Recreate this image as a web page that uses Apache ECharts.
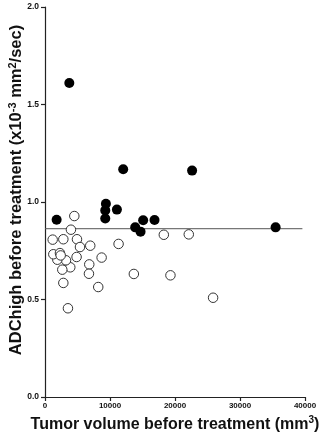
<!DOCTYPE html>
<html>
<head>
<meta charset="utf-8">
<script src="https://cdn.jsdelivr.net/npm/echarts@6/dist/echarts.min.js"></script>
<style>
	html, body {margin: 0; padding: 0; background: #fff;}
	#chart {width: 325px; height: 440px;}
</style>
</head>
<body>
<div id="chart"></div>
<script>
	// tumor volume (mm3) vs ADChigh before treatment (x10^-3 mm2/sec)
	var filledVolume = [1790, 3740, 9370, 9270, 9270, 11060, 12030, 13880, 14700, 15100, 16850, 22630, 35480];
	var filledAdc    = [0.909, 1.610, 0.991, 0.957, 0.915, 0.961, 1.168, 0.870, 0.848, 0.906, 0.908, 1.161, 0.870];

	var openVolume = [1180, 2820, 3990, 4510, 4920, 5380, 6960, 4860, 3890, 2660, 3230, 1900, 1280, 2300, 2410,
	                  2820, 3530, 6810, 6760, 8190, 8710, 11320, 13670, 18280, 19300, 22120, 25860];
	var openAdc    = [0.807, 0.809, 0.858, 0.928, 0.809, 0.769, 0.776, 0.718, 0.665, 0.653, 0.701, 0.704, 0.732, 0.738, 0.726,
	                  0.585, 0.455, 0.680, 0.632, 0.564, 0.715, 0.785, 0.631, 0.832, 0.624, 0.834, 0.509];

	var cutoffX = [0, 39600];
	var cutoffY = 0.863;

	var xTicks = [0, 10000, 20000, 30000, 40000];
	var yTicks = [0.0, 0.5, 1.0, 1.5, 2.0];

	function pairs(xs, ys){
		var out = [];
		for (var i=0; i<xs.length; i++){
			out.push([xs[i], ys[i]]);
		}
		return out;
	}

	var font = 'Liberation Sans, Arial, sans-serif';
	var ink = '#111';

	var chart = echarts.init(document.getElementById('chart'));
	var option = {
		animation: false,
		grid: {left: 45, right: 20, top: 7, bottom: 43, containLabel: false, outerBoundsMode: 'none'},
		xAxis: {
			type: 'value',
			min: xTicks[0],
			max: xTicks[xTicks.length-1],
			interval: 10000,
			splitLine: {show: false},
			axisLine: {show: true, lineStyle: {color: '#222', width: 1.2}},
			axisTick: {show: true, length: 4, lineStyle: {color: '#222', width: 1.2}},
			axisLabel: {
				margin: 5, color: ink, fontFamily: font, fontWeight: 'bold', fontSize: 8,
				formatter: function(v){return String(v);}
			},
			name: '{t|Tumor volume before treatment (mm}{s|3}{t|)}',
			nameLocation: 'middle',
			nameGap: 18,
			nameMoveOverlap: false,
			nameTextStyle: {
				verticalAlign: 'top',
				rich: {
					t: {fontFamily: font, fontWeight: 'bold', fontSize: 16, color: ink, verticalAlign: 'bottom', lineHeight: 18},
					s: {fontFamily: font, fontWeight: 'bold', fontSize: 10, color: ink, verticalAlign: 'top', lineHeight: 18, padding: [0, 0, 6, 0]}
				}
			}
		},
		yAxis: {
			type: 'value',
			min: yTicks[0],
			max: yTicks[yTicks.length-1],
			interval: 0.5,
			splitLine: {show: false},
			axisLine: {show: true, lineStyle: {color: '#222', width: 1.2}},
			axisTick: {show: true, length: 4, lineStyle: {color: '#222', width: 1.2}},
			axisLabel: {
				margin: 6, color: ink, fontFamily: font, fontWeight: 'bold', fontSize: 8.5,
				formatter: function(v){return v.toFixed(1);}
			},
			name: '{t|ADChigh before treatment (x10}{s|-3}{t| mm}{s|2}{t|/sec)}',
			nameLocation: 'middle',
			nameGap: 20,
			nameMoveOverlap: false,
			nameTextStyle: {
				padding: [0, 0, 0, 24],
				rich: {
					t: {fontFamily: font, fontWeight: 'bold', fontSize: 16.5, color: ink, verticalAlign: 'bottom', lineHeight: 18},
					s: {fontFamily: font, fontWeight: 'bold', fontSize: 11, color: ink, verticalAlign: 'top', lineHeight: 18, padding: [0, 0, 6, 0]}
				}
			}
		},
		series: [
			{
				name: 'cutoff',
				type: 'line',
				data: [[cutoffX[0], cutoffY], [cutoffX[1], cutoffY]],
				symbol: 'none',
				lineStyle: {color: '#555', width: 1},
				z: 1
			},
			{
				name: 'open',
				type: 'scatter',
				data: pairs(openVolume, openAdc),
				symbol: 'circle',
				symbolSize: 9.5,
				itemStyle: {color: '#fff', borderColor: '#333', borderWidth: 1, opacity: 1},
				z: 2
			},
			{
				name: 'filled',
				type: 'scatter',
				data: pairs(filledVolume, filledAdc),
				symbol: 'circle',
				symbolSize: 10,
				itemStyle: {color: '#000', borderWidth: 0, opacity: 1},
				z: 3
			}
		]
	};
	chart.setOption(option);
</script>
</body>
</html>
